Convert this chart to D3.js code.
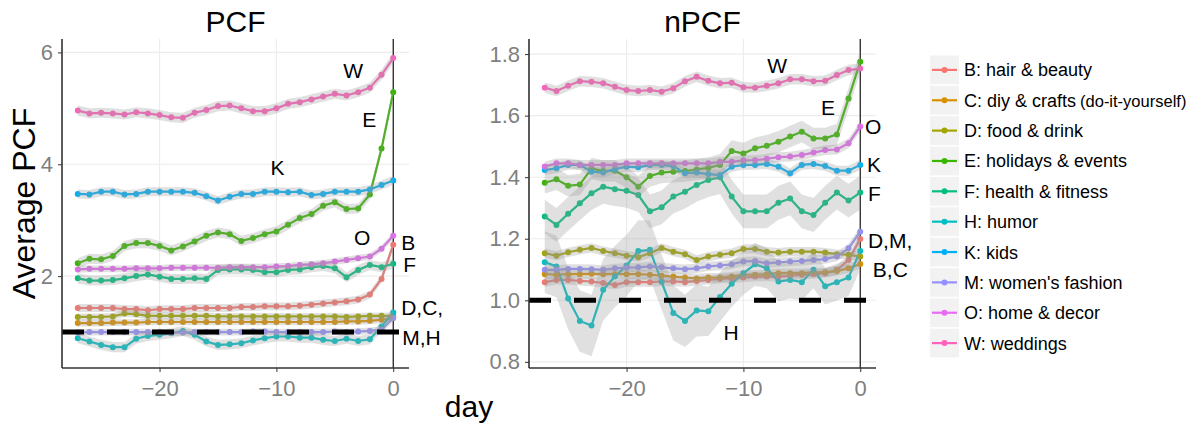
<!DOCTYPE html>
<html>
<head>
<meta charset="utf-8">
<script src="https://cdn.jsdelivr.net/npm/d3@7"></script>
<style>
  body { margin: 0; background: #fff; }
  svg { font-family: "Liberation Sans", Arial, Helvetica, sans-serif; }
</style>
</head>
<body>
<svg id="chart" width="1201" height="433"></svg>
<script>
'use strict'
// Data.
const days = [-27, -26, -25, -24, -23, -22, -21, -20, -19, -18, -17, -16, -15, -14,
              -13, -12, -11, -10, -9, -8, -7, -6, -5, -4, -3, -2, -1, 0];

const seriesKeys = ['B', 'C', 'D', 'E', 'F', 'H', 'K', 'M', 'O', 'W'];
const seriesNames = ['B: hair & beauty', 'C: diy & crafts', 'D: food & drink', 'E: holidays & events',
  'F: health & fitness', 'H: humor', 'K: kids', "M: women's fashion", 'O: home & decor', 'W: weddings'];
const seriesColors = ['#F8766D', '#D89000', '#A3A500', '#39B600', '#00BF7D',
  '#00BFC4', '#00B0F6', '#9590FF', '#E76BF3', '#FF62BC'];

// PCF panel
const pcfB = [1.43, 1.43, 1.43, 1.43, 1.41, 1.41, 1.39, 1.41, 1.41, 1.41, 1.43, 1.43, 1.43, 1.43, 1.45, 1.45, 1.46, 1.46, 1.46, 1.47, 1.49, 1.51, 1.53, 1.55, 1.58, 1.67, 1.95, 2.56];
const pcfC = [1.16, 1.16, 1.16, 1.17, 1.17, 1.17, 1.18, 1.18, 1.18, 1.18, 1.18, 1.18, 1.18, 1.18, 1.18, 1.18, 1.18, 1.18, 1.18, 1.18, 1.18, 1.18, 1.18, 1.19, 1.19, 1.20, 1.22, 1.25];
const pcfD = [1.27, 1.27, 1.27, 1.28, 1.33, 1.32, 1.29, 1.29, 1.29, 1.29, 1.29, 1.29, 1.28, 1.28, 1.28, 1.28, 1.28, 1.28, 1.28, 1.28, 1.28, 1.28, 1.28, 1.27, 1.28, 1.29, 1.29, 1.29];
const pcfE = [2.23, 2.31, 2.30, 2.36, 2.54, 2.59, 2.59, 2.54, 2.46, 2.53, 2.62, 2.72, 2.78, 2.75, 2.63, 2.68, 2.75, 2.80, 2.92, 3.04, 3.11, 3.26, 3.32, 3.20, 3.21, 3.46, 4.28, 5.29];
const pcfF = [1.96, 1.92, 1.92, 1.93, 1.96, 2.00, 2.03, 1.99, 1.95, 1.95, 1.96, 1.95, 2.11, 2.12, 2.12, 2.11, 2.07, 2.07, 2.11, 2.12, 2.16, 2.18, 2.14, 1.98, 2.11, 2.20, 2.16, 2.22];
const pcfH = [0.89, 0.83, 0.77, 0.73, 0.73, 0.88, 0.93, 0.95, 0.98, 1.02, 0.95, 0.83, 0.77, 0.78, 0.80, 0.85, 0.89, 0.92, 0.92, 0.90, 0.90, 0.86, 0.84, 0.88, 0.84, 0.87, 1.10, 1.35];
const pcfK = [3.47, 3.46, 3.51, 3.51, 3.46, 3.47, 3.51, 3.51, 3.51, 3.51, 3.49, 3.43, 3.35, 3.42, 3.47, 3.47, 3.51, 3.51, 3.50, 3.51, 3.45, 3.47, 3.51, 3.51, 3.51, 3.55, 3.63, 3.71];
const pcfM = [0.99, 1.00, 1.00, 1.00, 1.00, 1.00, 1.00, 1.00, 0.99, 0.99, 1.00, 1.00, 1.00, 1.00, 1.00, 1.01, 1.01, 1.00, 1.00, 1.00, 1.00, 1.00, 1.01, 1.00, 1.01, 1.02, 1.04, 1.25];
const pcfO = [2.12, 2.13, 2.13, 2.13, 2.13, 2.14, 2.14, 2.14, 2.15, 2.15, 2.15, 2.15, 2.15, 2.16, 2.16, 2.16, 2.16, 2.17, 2.18, 2.20, 2.21, 2.23, 2.26, 2.29, 2.32, 2.35, 2.49, 2.72];
const pcfW = [4.96, 4.91, 4.92, 4.91, 4.89, 4.93, 4.91, 4.88, 4.84, 4.83, 4.92, 4.97, 5.04, 5.05, 5.00, 4.95, 4.95, 5.00, 5.08, 5.11, 5.16, 5.21, 5.26, 5.23, 5.29, 5.37, 5.60, 5.90];
// ribbon half widths, same order as seriesKeys
const pcfBand = [0.07, 0.06, 0.06, 0.09, 0.09, 0.09, 0.08, 0.06, 0.06, 0.09];

// nPCF panel
const npcfB = [1.059, 1.066, 1.066, 1.063, 1.061, 1.056, 1.050, 1.059, 1.059, 1.059, 1.061, 1.061, 1.059, 1.063, 1.066, 1.070, 1.071, 1.074, 1.077, 1.077, 1.077, 1.080, 1.083, 1.085, 1.088, 1.099, 1.131, 1.199];
const npcfC = [1.085, 1.083, 1.085, 1.085, 1.086, 1.085, 1.085, 1.085, 1.085, 1.083, 1.080, 1.077, 1.074, 1.071, 1.074, 1.074, 1.077, 1.083, 1.083, 1.085, 1.088, 1.088, 1.088, 1.091, 1.091, 1.095, 1.104, 1.118];
const npcfD = [1.153, 1.145, 1.156, 1.164, 1.170, 1.160, 1.153, 1.145, 1.140, 1.153, 1.170, 1.158, 1.150, 1.131, 1.142, 1.148, 1.153, 1.167, 1.167, 1.158, 1.155, 1.158, 1.158, 1.158, 1.155, 1.150, 1.148, 1.142];
const npcfE = [1.382, 1.393, 1.372, 1.376, 1.428, 1.420, 1.421, 1.400, 1.369, 1.404, 1.415, 1.418, 1.420, 1.425, 1.430, 1.440, 1.485, 1.477, 1.494, 1.502, 1.515, 1.532, 1.548, 1.526, 1.526, 1.539, 1.656, 1.775];
const npcfF = [1.272, 1.245, 1.281, 1.315, 1.348, 1.369, 1.361, 1.356, 1.342, 1.289, 1.302, 1.337, 1.353, 1.375, 1.391, 1.400, 1.337, 1.289, 1.289, 1.289, 1.317, 1.331, 1.289, 1.277, 1.317, 1.350, 1.324, 1.350];
const npcfH = [1.124, 1.110, 1.006, 0.933, 0.918, 1.034, 1.077, 1.113, 1.160, 1.164, 1.060, 0.959, 0.933, 0.967, 0.964, 1.011, 1.054, 1.088, 1.117, 1.104, 1.061, 1.066, 1.059, 1.099, 1.046, 1.059, 1.074, 1.160];
const npcfK = [1.423, 1.429, 1.440, 1.440, 1.418, 1.415, 1.426, 1.434, 1.432, 1.440, 1.440, 1.436, 1.413, 1.415, 1.410, 1.407, 1.434, 1.440, 1.440, 1.443, 1.434, 1.413, 1.440, 1.443, 1.436, 1.421, 1.421, 1.440];
const npcfM = [1.099, 1.099, 1.102, 1.102, 1.101, 1.099, 1.104, 1.106, 1.107, 1.110, 1.107, 1.104, 1.101, 1.104, 1.110, 1.113, 1.117, 1.126, 1.128, 1.120, 1.123, 1.126, 1.128, 1.131, 1.134, 1.142, 1.169, 1.223];
const npcfO = [1.435, 1.445, 1.445, 1.440, 1.440, 1.440, 1.440, 1.445, 1.445, 1.445, 1.445, 1.445, 1.445, 1.445, 1.445, 1.450, 1.450, 1.455, 1.455, 1.460, 1.465, 1.467, 1.472, 1.480, 1.488, 1.490, 1.510, 1.565];
const npcfW = [1.691, 1.680, 1.697, 1.712, 1.710, 1.705, 1.694, 1.683, 1.680, 1.683, 1.678, 1.689, 1.712, 1.726, 1.713, 1.705, 1.707, 1.692, 1.691, 1.697, 1.705, 1.718, 1.718, 1.712, 1.713, 1.732, 1.748, 1.753];
const npcfBand = [0.015, 0.015, 0.015, 0.035, 0.055, 0.09, 0.016, 0.015, 0.016, 0.017];
const npcfBandH = [0.10, 0.10, 0.10, 0.10, 0.10, 0.10, 0.10, 0.10, 0.10, 0.095, 0.09, 0.09, 0.085, 0.085, 0.08, 0.08, 0.075, 0.07, 0.07, 0.065, 0.065, 0.06, 0.06, 0.06, 0.06, 0.06, 0.06, 0.06];

const pcfTicks = [2, 4, 6];
const npcfTicks = [0.8, 1.0, 1.2, 1.4, 1.6, 1.8];
const dayTicks = [-20, -10, 0];

// Prepare rows for one panel.
function prepareSeries(valueArrays, bands, bandOverrides) {
  return seriesKeys.map((key, i) => {
    const vals = valueArrays[i];
    const over = bandOverrides[key];
    return {
      key: key,
      color: seriesColors[i],
      points: days.map((d, j) => {
        const hw = over ? over[j] : bands[i];
        return { day: d, value: vals[j], lo: vals[j] - hw, hi: vals[j] + hw };
      })
    };
  });
}

const svg = d3.select('#chart');
const minus = s => String(s).replace('-', '\u2212');

function drawPanel(cfg) {
  const { x0, x1, y0, y1 } = cfg;
  const xScale = d3.scaleLinear([-28.35, 1.35], [x0, x1]);
  const yScale = d3.scaleLinear(cfg.yDomain, [y1, y0]);
  const g = svg.append('g');

  // grid
  g.selectAll('.gx').data(dayTicks).enter().append('line')
    .attr('x1', d => xScale(d)).attr('x2', d => xScale(d))
    .attr('y1', y0).attr('y2', y1)
    .style('stroke', '#ececec').style('stroke-width', 1.1);
  g.selectAll('.gy').data(cfg.yTicks).enter().append('line')
    .attr('x1', x0).attr('x2', x1)
    .attr('y1', d => yScale(d)).attr('y2', d => yScale(d))
    .style('stroke', '#ececec').style('stroke-width', 1.1);

  // vertical line at day 0
  g.append('line')
    .attr('x1', xScale(0)).attr('x2', xScale(0))
    .attr('y1', y0).attr('y2', y1)
    .style('stroke', '#000').style('stroke-width', 1.1);

  const area = d3.area()
    .x(d => xScale(d.day))
    .y0(d => yScale(d.lo))
    .y1(d => yScale(d.hi));
  const line = d3.line()
    .x(d => xScale(d.day))
    .y(d => yScale(d.value));

  // lines
  g.selectAll('.line').data(cfg.series).enter().append('path')
    .attr('d', s => line(s.points))
    .style('fill', 'none')
    .style('stroke', s => s.color)
    .style('stroke-width', 2.2);

  // points
  cfg.series.forEach(s => {
    g.selectAll(null).data(s.points).enter().append('circle')
      .attr('cx', d => xScale(d.day))
      .attr('cy', d => yScale(d.value))
      .attr('r', 3)
      .style('fill', s.color);
  });

  // ribbons, drawn over the lines
  g.selectAll('.ribbon').data(cfg.series).enter().append('path')
    .attr('d', s => area(s.points))
    .style('fill', '#999').style('fill-opacity', 0.3);

  // dashed reference line at 1
  g.append('line')
    .attr('x1', x0).attr('x2', x1)
    .attr('y1', yScale(1)).attr('y2', yScale(1))
    .style('stroke', '#000').style('stroke-width', 5)
    .style('stroke-dasharray', '22 23');

  // axes
  const xAxis = d3.axisBottom(xScale)
    .tickValues(dayTicks)
    .tickFormat(minus)
    .tickSizeInner(4).tickSizeOuter(0).tickPadding(8);
  const yAxis = d3.axisLeft(yScale)
    .tickValues(cfg.yTicks)
    .tickFormat(cfg.yFormat)
    .tickSizeInner(4).tickSizeOuter(0).tickPadding(5);

  const xg = g.append('g').attr('transform', `translate(0, ${y1})`).call(xAxis);
  const yg = g.append('g').attr('transform', `translate(${x0}, 0)`).call(yAxis);
  [xg, yg].forEach(a => {
    a.select('.domain').style('stroke', '#333').style('stroke-width', 1.6);
    a.selectAll('.tick line').style('stroke', '#333');
    a.selectAll('text').style('fill', '#7f7f7f').style('font-size', '22px')
      .style('font-family', '"Liberation Sans", Arial, sans-serif');
  });
  xg.select('.domain').attr('d', `M${x0},0H${x1}`);
  yg.select('.domain').attr('d', `M0,${y0}V${y1}`);

  // title
  g.append('text')
    .attr('x', (x0 + x1) / 2).attr('y', 32)
    .attr('text-anchor', 'middle')
    .style('font-size', '30px')
    .text(cfg.title);

  // annotations
  g.selectAll('.lab').data(cfg.labels).enter().append('text')
    .attr('x', d => xScale(d.day))
    .attr('y', d => yScale(d.value))
    .attr('text-anchor', d => d.anchor)
    .style('font-size', '21px')
    .text(d => d.text);
}

drawPanel({
  x0: 62, x1: 409, y0: 39, y1: 368,
  yDomain: [0.357, 6.24],
  yTicks: pcfTicks,
  yFormat: d3.format('d'),
  title: 'PCF',
  series: prepareSeries([pcfB, pcfC, pcfD, pcfE, pcfF, pcfH, pcfK, pcfM, pcfO, pcfW], pcfBand, {}),
  labels: [
    { text: 'W', day: -3.42, value: 5.54, anchor: 'middle' },
    { text: 'E', day: -2.05, value: 4.67, anchor: 'middle' },
    { text: 'K', day: -9.91, value: 3.81, anchor: 'middle' },
    { text: 'O', day: -2.65, value: 2.56, anchor: 'middle' },
    { text: 'B', day: 0.68, value: 2.47, anchor: 'start' },
    { text: 'F', day: 0.85, value: 2.08, anchor: 'start' },
    { text: 'D,C,', day: 0.68, value: 1.31, anchor: 'start' },
    { text: 'M,H', day: 0.77, value: 0.77, anchor: 'start' }
  ]
});

drawPanel({
  x0: 529, x1: 876, y0: 39, y1: 368,
  yDomain: [0.78, 1.849],
  yTicks: npcfTicks,
  yFormat: d3.format('.1f'),
  title: 'nPCF',
  series: prepareSeries([npcfB, npcfC, npcfD, npcfE, npcfF, npcfH, npcfK, npcfM, npcfO, npcfW], npcfBand, { H: npcfBandH }),
  labels: [
    { text: 'W', day: -7.12, value: 1.738, anchor: 'middle' },
    { text: 'E', day: -2.76, value: 1.602, anchor: 'middle' },
    { text: 'O', day: 0.40, value: 1.540, anchor: 'start' },
    { text: 'K', day: 0.57, value: 1.417, anchor: 'start' },
    { text: 'F', day: 0.66, value: 1.323, anchor: 'start' },
    { text: 'D,M,', day: 0.66, value: 1.170, anchor: 'start' },
    { text: 'B,C', day: 1.08, value: 1.076, anchor: 'start' },
    { text: 'H', day: -11.05, value: 0.871, anchor: 'middle' }
  ]
});

// axis titles
svg.append('text')
  .attr('transform', 'translate(35, 203.5) rotate(-90)')
  .attr('text-anchor', 'middle')
  .style('font-size', '32px')
  .text('Average PCF');

svg.append('text')
  .attr('x', 469).attr('y', 417)
  .attr('text-anchor', 'middle')
  .style('font-size', '30px')
  .text('day');

// legend
const legendY = d3.scaleBand(seriesKeys, [55.5, 357.5]).paddingInner(0.05);
const legend = svg.append('g');
const item = legend.selectAll('.item').data(seriesKeys).enter().append('g')
  .attr('transform', k => `translate(930, ${legendY(k)})`);
item.append('rect')
  .attr('width', 29).attr('height', legendY.bandwidth())
  .style('fill', '#f2f2f2');
item.append('line')
  .attr('x1', 2).attr('x2', 27)
  .attr('y1', legendY.bandwidth() / 2).attr('y2', legendY.bandwidth() / 2)
  .style('stroke', (k, i) => seriesColors[i]).style('stroke-width', 2.2);
item.append('circle')
  .attr('cx', 14.5).attr('cy', legendY.bandwidth() / 2).attr('r', 3)
  .style('fill', (k, i) => seriesColors[i]);
const itemText = item.append('text')
  .attr('x', 34).attr('y', legendY.bandwidth() / 2 + 6.5)
  .style('font-size', '18px')
  .text((k, i) => seriesNames[i]);
itemText.filter(k => k === 'C').append('tspan')
  .attr('dx', 4)
  .style('font-size', '16.5px')
  .text('(do-it-yourself)');
</script>
</body>
</html>
